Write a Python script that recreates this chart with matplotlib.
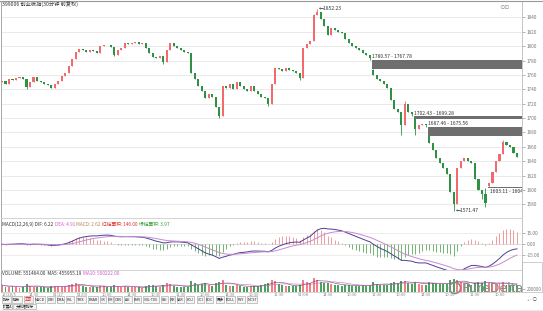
import numpy as np
import pandas as pd
import matplotlib
matplotlib.use("Agg")
import matplotlib.pyplot as plt
from matplotlib.patches import Rectangle

plt.rcParams['font.family'] = ['Noto Sans CJK SC', 'DejaVu Sans']

# 30-minute closes
closes = [1752, 1748, 1755, 1753, 1756, 1757, 1755, 1743, 1750, 1757,
          1752, 1750, 1748, 1746, 1742, 1748, 1752, 1758, 1763, 1772,
          1782, 1792, 1796, 1794, 1792, 1795, 1793, 1791, 1800, 1802,
          1801, 1799, 1788, 1794, 1797, 1804, 1803, 1805, 1806, 1803,
          1804, 1798, 1790, 1785, 1783, 1786, 1778, 1795, 1805, 1800,
          1797, 1795, 1792, 1790, 1762, 1755, 1745, 1738, 1728, 1733,
          1730, 1715, 1703, 1745, 1742, 1747, 1740, 1750, 1744, 1740,
          1738, 1745, 1738, 1733, 1730, 1728, 1720, 1748, 1770, 1768,
          1766, 1770, 1767, 1766, 1763, 1756, 1798, 1803, 1807, 1843,
          1848, 1838, 1828, 1815, 1825, 1822, 1820, 1818, 1810, 1805,
          1800, 1798, 1795, 1790, 1787, 1784, 1760, 1755, 1752, 1748,
          1742, 1725, 1712, 1708, 1690, 1720, 1708, 1705, 1685, 1690,
          1692, 1690, 1665, 1655, 1645, 1638, 1630, 1622, 1598, 1580,
          1630, 1640, 1645, 1640, 1638, 1615, 1600, 1595, 1582, 1610,
          1625, 1640, 1650, 1667, 1663, 1660, 1652, 1646]
first_open = 1750
# candles that did not open at the previous close (gaps)
open_fix = {106: 1767, 118: 1699, 122: 1675, 139: 1605}
high_fix = {90: 1852.23, 106: 1767.78, 118: 1699.28, 122: 1675.56,
            138: 1603.11, 115: 1724, 143: 1670, 89: 1845}
low_fix = {7: 1740, 32: 1786, 46: 1775, 62: 1700, 76: 1717, 85: 1753,
           105: 1780.57, 114: 1676, 117: 1702.43, 118: 1676, 121: 1687.46,
           129: 1571.47, 137: 1588, 138: 1576, 139: 1604.57}

volumes = [520, 410, 380, 450, 360, 330, 400, 620, 480, 390,
           350, 340, 360, 330, 420, 460, 430, 390, 440, 520,
           610, 650, 540, 420, 380, 360, 340, 350, 480, 430,
           380, 360, 520, 470, 410, 450, 380, 360, 340, 350,
           330, 420, 510, 540, 430, 400, 560, 650, 590, 430,
           380, 360, 390, 400, 820, 640, 560, 600, 650, 520,
           470, 640, 780, 900, 560, 480, 440, 520, 430, 400,
           380, 420, 450, 470, 560, 620, 680, 900, 800, 620,
           520, 480, 440, 430, 450, 520, 880, 760, 700, 1050,
           900, 760, 700, 680, 600, 560, 500, 470, 520, 540,
           480, 450, 470, 500, 480, 520, 760, 620, 540, 520,
           560, 680, 740, 700, 860, 820, 640, 600, 780, 620,
           560, 540, 720, 660, 640, 620, 600, 580, 880, 950,
           900, 720, 640, 580, 560, 700, 760, 680, 820, 640,
           600, 620, 680, 740, 560, 520, 500, 551]

gaps = [(106, 1767.78, 1780.57, "1780.57 - 1767.78"),
        (118, 1699.28, 1702.43, "1702.43 - 1699.28"),
        (122, 1675.56, 1687.46, "1687.46 - 1675.56"),
        (139, 1603.11, 1604.57, "1603.11 - 1604.57")]

price_ticks = list(range(1580, 1841, 20))
date_labels = ["12/28/5", "14:30", "01/27", "01/03", "10:00", "14:30", "10:30",
               "11:30", "10:00", "14:30", "10:30", "11:30", "01/08", "14:30",
               "10:30", "11:30", "10:00", "14:30", "10:30", "11:30", "10:00"]
buttons = ["指标", "模板", "主图", "MACD", "DMI", "DMA", "FSL", "TRIX", "BRAR", "CR",
           "VR", "OBV", "ASI", "EMV", "VOL-TDX", "RSI", "WR", "SAR", "KDJ", "CCI",
           "ROC", "更多", "BOLL", "PSY", "MCST"]
button_x = [(2, 11), (12, 22), (24, 33), (35, 45), (47, 55), (57, 64), (66, 74),
            (76, 86), (88, 98), (100, 106), (108, 113), (114, 122), (124, 132),
            (134, 141), (143, 159), (161, 168), (170, 175), (177, 184), (186, 194),
            (197, 204), (206, 213), (216, 224), (226, 235), (237, 245), (247, 257)]

W, H = 543, 311
UP = '#f06a6e'
DOWN = '#2f9144'
GRID = '#e6e6e6'
TXT = '#333333'


def px(x0, y0, x1, y1):
    return [x0 / W, 1 - y1 / H, (x1 - x0) / W, (y1 - y0) / H]


n = len(closes)
x = np.arange(n)
c = np.array(closes, float)
o = np.array([first_open] + closes[:-1], float)
for k, v in open_fix.items():
    o[k] = v
hi = np.maximum(o, c)
lo = np.minimum(o, c)
for k, v in high_fix.items():
    hi[k] = v
for k, v in low_fix.items():
    lo[k] = v
up = c >= o
cols = np.where(up, UP, DOWN)

s = pd.Series(c)
dif = s.ewm(span=12, adjust=False).mean() - s.ewm(span=26, adjust=False).mean()
dea = dif.ewm(span=9, adjust=False).mean()
hist = 2 * (dif - dea)
vol = pd.Series(volumes, dtype=float) * 1000
ma5 = vol.rolling(5, min_periods=1).mean()
ma10 = vol.rolling(10, min_periods=1).mean()

xl = (-0.29, 148.43)
fig = plt.figure(figsize=(W / 100, H / 100), dpi=100)
fig.patch.set_facecolor('white')
rend = fig.canvas.get_renderer()


def text_run(x0, y0, parts, size):
    # place coloured pieces one after another on one line
    xx = x0
    for t, col in parts:
        tx = fig.text(xx / W, 1 - y0 / H, t, fontsize=size, color=col, va='center')
        bb = tx.get_window_extent(renderer=rend)
        xx += bb.width + 1.5


# ---- main candle panel
ax = fig.add_axes(px(1, 2, 522, 218))
ax.set_xlim(*xl)
ax.set_ylim(1561.2, 1861.3)
for t in price_ticks:
    ax.axhline(t, color=GRID, lw=0.6, zorder=0)
ax.vlines(x, lo, hi, colors=cols, lw=0.6, zorder=2)
ax.bar(x, np.maximum(np.abs(c - o), 0.9), bottom=np.minimum(o, c),
       width=0.6, color=cols, lw=0, zorder=3)
for idx, g_lo, g_hi, lab in gaps:
    ax.add_patch(Rectangle((idx - 0.3, g_lo), xl[1] - idx + 0.3, g_hi - g_lo,
                           color='#6e6e6e', lw=0, zorder=4))
    if idx == 139:
        ax.text(idx + 0.2, g_lo - 1.5, lab, fontsize=3.6, color=TXT, va='top',
                ha='left', clip_on=True, zorder=5)
    else:
        ax.text(idx - 0.3, g_hi + 1, lab, fontsize=3.6, color=TXT, va='bottom',
                ha='left', zorder=5)
ax.text(90.5, 1852.23, "←1852.23", fontsize=3.6, color=TXT, va='center', ha='left')
ax.text(129.5, 1571.47, "←1571.47", fontsize=3.6, color=TXT, va='center', ha='left')
ax.set_yticks(price_ticks)
ax.set_yticklabels([str(t) for t in price_ticks])
ax.yaxis.tick_right()
ax.tick_params(axis='y', labelsize=3.4, colors='#777777', length=2, width=0.4, pad=1.5)
ax.set_xticks([])
for sp in ['top', 'bottom']:
    ax.spines[sp].set_visible(False)
ax.spines['left'].set_color('#999999')
ax.spines['right'].set_color('#bbbbbb')
for sp in ax.spines.values():
    sp.set_linewidth(0.6)
ax.text(0.975, 0.985, "⊙⊡", transform=ax.transAxes, fontsize=4, color='#999999',
        va='top', ha='right')
text_run(2, 5, [("399006 创业板指(30分钟 前复权)", TXT)], 3.8)

# ---- MACD panel
am = fig.add_axes(px(1, 218, 522, 270))
am.set_xlim(*xl)
am.set_ylim(-35.1, 35.9)
am.axhline(0, color='#cfcfcf', lw=0.5, zorder=0)
for t in (15, -15):
    am.axhline(t, color=GRID, lw=0.5, zorder=0)
hcols = np.where(hist >= 0, '#f08a8a', '#5aa85a')
am.vlines(x, 0, hist, colors=hcols, lw=0.6, zorder=1)
am.plot(x, dif, color='#4b3f95', lw=0.7, zorder=3)
am.plot(x, dea, color='#c88ad0', lw=0.7, zorder=3)
am.set_yticks([15, 0, -15])
am.set_yticklabels(["15.00", "0.00", "-15.00"])
am.yaxis.tick_right()
am.tick_params(axis='y', labelsize=3.4, colors='#777777', length=2, width=0.4, pad=1.5)
am.set_xticks([])
am.spines['bottom'].set_visible(False)
am.spines['top'].set_color('#cccccc')
am.spines['left'].set_color('#999999')
am.spines['right'].set_color('#bbbbbb')
for sp in am.spines.values():
    sp.set_linewidth(0.6)
text_run(2, 224.5, [("MACD(12,26,9) DIF: 6.22", TXT), ("DEA: 4.91", '#d05ad0'),
                    ("MACD: 2.62", '#b08a50'), ("红柱面积: 146.00", '#e03030'),
                    ("绿柱面积: 3.97", '#30a030')], 3.4)

# ---- volume panel
av = fig.add_axes(px(1, 270, 522, 292))
av.set_xlim(*xl)
av.set_ylim(0, 1650000)
av.bar(x, vol, width=0.55, color=cols, lw=0, alpha=0.85)
av.plot(x, ma5, color='#555555', lw=0.4)
av.plot(x, ma10, color='#d05ad0', lw=0.4)
av.set_yticks([200000 * 1.0])
av.set_yticklabels(["200000"])
av.yaxis.tick_right()
av.tick_params(axis='y', labelsize=3.2, colors='#777777', length=2, width=0.4, pad=1.5)
tick_pos = np.arange(2, n, 7)[:len(date_labels)]
av.set_xticks(tick_pos)
av.set_xticklabels(date_labels[:len(tick_pos)])
av.tick_params(axis='x', labelsize=3.0, colors='#888888', length=0, pad=0.5)
av.spines['top'].set_color('#cccccc')
av.spines['bottom'].set_color('#cccccc')
av.spines['left'].set_color('#999999')
av.spines['right'].set_color('#bbbbbb')
for sp in av.spines.values():
    sp.set_linewidth(0.6)
text_run(2, 273.5, [("VOLUME: 551464.00  MA5: 455955.19", TXT),
                    ("MA10: 500222.00", '#d05ad0')], 3.4)

# ---- bottom button bar
bar = fig.add_axes([0, 0, 1, 1], facecolor='none')
bar.set_xlim(0, W)
bar.set_ylim(H, 0)
bar.axis('off')
for lab, (x0, x1) in zip(buttons, button_x):
    red = lab == "主图"
    bar.add_patch(Rectangle((x0, 296), x1 - x0, 7, fc='#fde8e8' if red else '#f5f5f5',
                            ec='#9a9a9a', lw=0.4))
    fs = 2.6 if len(lab) < 5 else 2.3
    bar.text((x0 + x1) / 2, 299.6, lab, fontsize=fs, ha='center', va='center',
             color='#e03030' if red else '#222222')
for lab, (x0, x1) in zip(["扩展A", "大数据指标"], [(3, 12), (13, 36)]):
    bar.add_patch(Rectangle((x0, 303.5), x1 - x0, 5.5, fc='#f5f5f5', ec='#9a9a9a', lw=0.4))
    bar.text((x0 + x1) / 2, 306.3, lab, fontsize=2.6, ha='center', va='center', color='#222222')
bar.add_patch(Rectangle((0, 309.5), W, 2, fc='#dfeaf5', ec='none'))
bar.add_patch(Rectangle((522, 262), 20, 30, fc='none', ec='#bbbbbb', lw=0.5))
bar.text(532, 300, "+ - ○", fontsize=3.0, ha='center', va='center', color='#555555')
bar.plot([0, W], [0.5, 0.5], color='#999999', lw=0.8)
# watermark
bar.add_patch(plt.Circle((455, 288), 5.5, fc='none', ec='#8a8a8a', lw=1.1, zorder=10))
bar.text(463, 288, "PureDelta", fontsize=9, color='#8a8a8a',
         ha='left', va='center', zorder=10, family='DejaVu Sans')

fig.savefig("out.png", dpi=100)
